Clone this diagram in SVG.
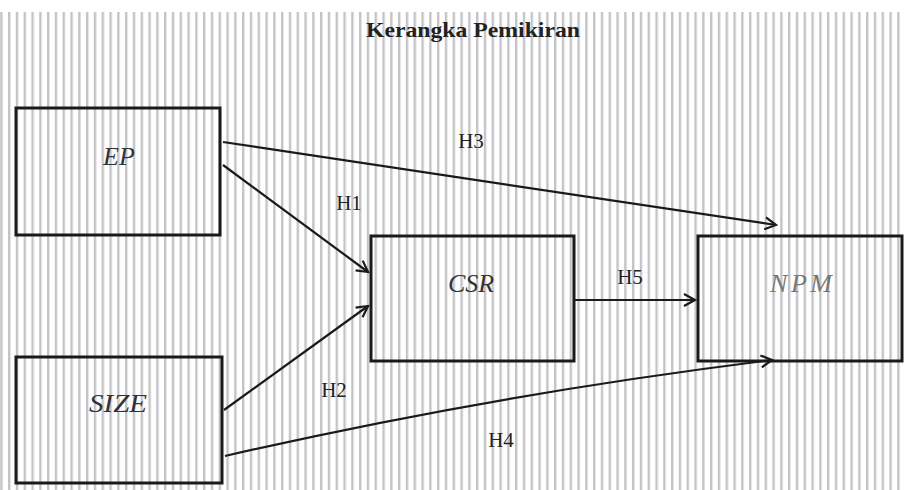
<svg xmlns="http://www.w3.org/2000/svg" width="904" height="490" viewBox="0 0 904 490">
  <defs>
    <pattern id="stripes" x="8" y="0" width="7.8" height="10" patternUnits="userSpaceOnUse">
      <rect x="0" y="0" width="2.4" height="10" fill="#c4c4c8"/>
    </pattern>
    <marker id="arrow" markerUnits="userSpaceOnUse" markerWidth="16" markerHeight="16" viewBox="-13 -8 15 16" refX="0" refY="0" orient="auto">
      <path d="M-11,-6 L0,0 L-11,6" fill="none" stroke="#1a1a1a" stroke-width="2.2" stroke-linejoin="miter"/>
    </marker>
    <style>
      .box { fill: none; stroke: #1a1a1a; stroke-width: 3; }
      .node-label { font-family: "Liberation Serif", "Times New Roman", serif; font-style: italic; font-size: 26px; fill: #333; text-anchor: middle; }
      .hyp { font-family: "Liberation Serif", "Times New Roman", serif; font-size: 21px; fill: #222; text-anchor: middle; }
      .title { font-family: "Liberation Serif", "Times New Roman", serif; font-size: 21px; font-weight: bold; fill: #222; text-anchor: middle; }
      .conn { fill: none; stroke: #1a1a1a; stroke-width: 2.2; marker-end: url(#arrow); }
    </style>
  </defs>

  <rect x="0" y="0" width="904" height="490" fill="#ffffff"/>
  <rect x="0" y="12" width="904" height="478" fill="url(#stripes)"/>

  <text class="title" x="473" y="37" textLength="214" lengthAdjust="spacingAndGlyphs">Kerangka Pemikiran</text>

  <g id="connectors">
    <path class="conn" d="M223,142 L776,225"/>
    <path class="conn" d="M223,165 L368,272"/>
    <path class="conn" d="M224,410 L368,306"/>
    <path class="conn" d="M575,300 L695,300"/>
    <path class="conn" d="M225,456 Q490,395 772,360"/>
    <text class="hyp" x="349" y="210">H1</text>
    <text class="hyp" x="334" y="397">H2</text>
    <text class="hyp" x="471" y="148">H3</text>
    <text class="hyp" x="501" y="447">H4</text>
    <text class="hyp" x="630" y="284">H5</text>
  </g>

  <g id="node-ep">
    <rect class="box" x="16" y="108" width="204" height="127"/>
    <text class="node-label" x="119" y="165">EP</text>
  </g>

  <g id="node-size">
    <rect class="box" x="16" y="357" width="206" height="126"/>
    <text class="node-label" x="118" y="412" font-size="24" textLength="58" lengthAdjust="spacingAndGlyphs">SIZE</text>
  </g>

  <g id="node-csr">
    <rect class="box" x="371" y="236" width="203" height="125"/>
    <text class="node-label" x="471" y="292">CSR</text>
  </g>

  <g id="node-npm">
    <rect class="box" x="698" y="236" width="204" height="125"/>
    <text class="node-label" x="801" y="292" style="fill:#777" textLength="62" lengthAdjust="spacing">NPM</text>
  </g>
</svg>
